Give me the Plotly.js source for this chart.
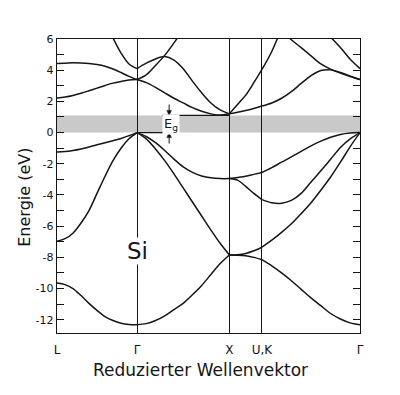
<!DOCTYPE html>
<html>
<head>
<meta charset="utf-8">
<script src="https://cdn.plot.ly/plotly-3.0.1.min.js"></script>
<style>html,body{margin:0;padding:0;background:#fff;}#chart{width:400px;height:395px;}</style>
</head>
<body>
<div id="chart"></div>
<script>
// High-symmetry points along the k-path (reduced wave vector)
const kPointPos = [0, 0.866, 1.866, 2.219, 3.28];
const kPointLabels = ['L', 'Γ', 'X', 'U,K', 'Γ'];

// k grids for each path segment
const kLG = [0, 0.087, 0.173, 0.26, 0.346, 0.433, 0.52, 0.606, 0.693, 0.779, 0.866];
const kGX = [0.866, 0.966, 1.066, 1.166, 1.266, 1.366, 1.466, 1.566, 1.666, 1.766, 1.866];
const kXU = [1.866, 1.954, 2.043, 2.131, 2.219];
const kKG = [2.219, 2.325, 2.431, 2.537, 2.643, 2.75, 2.856, 2.962, 3.068, 3.174, 3.28];

// Energies (eV) — L to Γ
const eLG_c1 = [4.43, 4.45, 4.47, 4.46, 4.43, 4.36, 4.25, 4.08, 3.85, 3.6, 3.4];
const eLG_c2 = [2.22, 2.28, 2.38, 2.52, 2.68, 2.85, 3.02, 3.17, 3.28, 3.37, 3.4];
const eLG_c3 = [null, null, null, null, null, null, 7.2, 6.07, 5.1, 4.4, 4.1];
const eLG_v1 = [-1.25, -1.22, -1.15, -1.05, -0.93, -0.78, -0.65, -0.52, -0.38, -0.2, 0];
const eLG_v2 = [-6.97, -6.8, -6.45, -5.8, -5.0, -3.9, -2.8, -1.8, -1.0, -0.4, 0];
const eLG_v3 = [-9.65, -9.75, -10.0, -10.45, -10.95, -11.4, -11.8, -12.05, -12.22, -12.3, -12.32];

// Γ to X
const eGX_c1 = [4.1, 4.45, 4.72, 4.87, 4.65, 4.1, 3.3, 2.55, 1.9, 1.45, 1.2];
const eGX_c2 = [3.4, 3.2, 2.9, 2.55, 2.2, 1.9, 1.6, 1.37, 1.2, 1.12, 1.2];
const eGX_c3 = [3.4, 3.7, 4.3, 4.95, 5.75, 6.6, null, null, null, null, null];
const eGX_v1 = [0, -0.25, -0.65, -1.15, -1.7, -2.2, -2.55, -2.78, -2.9, -2.95, -2.95];
const eGX_v2 = [0, -0.4, -1.05, -1.8, -2.65, -3.55, -4.45, -5.35, -6.25, -7.1, -7.85];
const eGX_v3 = [-12.32, -12.25, -12.05, -11.75, -11.35, -10.95, -10.4, -9.8, -9.1, -8.4, -7.85];

// X to U
const eXU_c1 = [1.2, 1.3, 1.42, 1.55, 1.7];
const eXU_c2 = [1.2, 1.8, 2.4, 3.2, 4.05];
const eXU_v1 = [-2.95, -2.88, -2.8, -2.68, -2.56];
const eXU_v2 = [-2.95, -3.05, -3.45, -3.9, -4.3];
const eXU_v3 = [-7.85, -7.83, -7.75, -7.58, -7.35];
const eXU_v4 = [-7.85, -7.86, -7.9, -8.0, -8.15];

// K to Γ
const eKG_c1 = [1.7, 1.9, 2.2, 2.62, 3.15, 3.65, 3.98, 4.02, 3.82, 3.6, 3.4];
const eKG_c2 = [4.05, 5.2, 6.7, null, null, null, null, null, null, null, null];
const eKG_c3 = [null, null, 6.6, 5.95, 5.45, 4.92, 4.4, 4.07, 3.85, 3.62, 3.4];
const eKG_c4 = [null, null, null, null, null, null, null, 6.12, 5.45, 4.7, 4.1];
const eKG_v1 = [-2.56, -2.25, -1.9, -1.56, -1.2, -0.85, -0.55, -0.3, -0.12, -0.03, 0];
const eKG_v2 = [-4.3, -4.5, -4.53, -4.35, -3.9, -3.17, -2.45, -1.71, -0.95, -0.4, 0];
const eKG_v3 = [-7.35, -6.9, -6.4, -5.85, -5.2, -4.5, -3.7, -2.85, -1.9, -0.9, 0];
const eKG_v4 = [-8.15, -8.55, -9.0, -9.5, -10.05, -10.6, -11.1, -11.6, -11.95, -12.2, -12.32];

// Energy axis ticks
const yTickVals = [-12,-11,-10,-9,-8,-7,-6,-5,-4,-3,-2,-1,0,1,2,3,4,5,6];
const yTickText = yTickVals.map(v => (v % 2 === 0) ? String(v) : '');

const gapBottom = 0, gapTop = 1.1;

const curves = [
  [kLG, eLG_c1], [kLG, eLG_c2], [kLG, eLG_c3], [kLG, eLG_v1], [kLG, eLG_v2], [kLG, eLG_v3],
  [kGX, eGX_c1], [kGX, eGX_c2], [kGX, eGX_c3], [kGX, eGX_v1], [kGX, eGX_v2], [kGX, eGX_v3],
  [kXU, eXU_c1], [kXU, eXU_c2], [kXU, eXU_v1], [kXU, eXU_v2], [kXU, eXU_v3], [kXU, eXU_v4],
  [kKG, eKG_c1], [kKG, eKG_c2], [kKG, eKG_c3], [kKG, eKG_c4], [kKG, eKG_v1], [kKG, eKG_v2], [kKG, eKG_v3], [kKG, eKG_v4]
];

const ink = '#151515';
const traces = curves.map(([k, e]) => ({
  type: 'scatter', mode: 'lines', x: k, y: e,
  line: {color: ink, width: 1.5, shape: 'spline', smoothing: 0.9},
  hoverinfo: 'skip', showlegend: false
}));

const FONT = 'DejaVu Sans, sans-serif';
const xG = kPointPos[1], xX = kPointPos[2];
const xEg = 1.23, xArrow = 1.214;
const ah = 0.025, av = 0.32; // arrowhead half-width (k units) and length (eV)

const layout = {
  width: 400, height: 395,
  margin: {l: 57, r: 40, t: 39, b: 62},
  paper_bgcolor: '#fff', plot_bgcolor: '#fff',
  font: {family: FONT, color: ink},
  showlegend: false,
  xaxis: {
    range: [kPointPos[0], kPointPos[4]],
    tickvals: kPointPos, ticktext: kPointLabels,
    showgrid: true, gridcolor: ink, gridwidth: 1,
    zeroline: false, showline: true, linecolor: ink, linewidth: 1.3, mirror: true,
    ticks: '', ticklabelstandoff: 5,
    tickfont: {family: FONT, size: 12, color: ink}
  },
  yaxis: {
    range: [-12.85, 6],
    tickvals: yTickVals, ticktext: yTickText,
    ticks: 'inside', ticklen: 7, tickwidth: 1, tickcolor: ink,
    showgrid: false, zeroline: false,
    showline: true, linecolor: ink, linewidth: 1.3, mirror: 'ticks',
    tickfont: {family: FONT, size: 11, color: ink}
  },
  shapes: [
    {type: 'rect', xref: 'x', yref: 'y', x0: kPointPos[0], x1: kPointPos[4], y0: gapBottom, y1: gapTop,
     fillcolor: '#c9c9c9', line: {width: 0}, layer: 'below'},
    {type: 'line', xref: 'x', yref: 'y', x0: xG, x1: 1.32, y0: gapBottom, y1: gapBottom, line: {color: ink, width: 1.2}},
    {type: 'line', xref: 'x', yref: 'y', x0: 1.14, x1: xX, y0: gapTop, y1: gapTop, line: {color: ink, width: 1.2}},
    // upper arrow (pointing down onto the conduction-band edge)
    {type: 'line', xref: 'x', yref: 'y', x0: xArrow, x1: xArrow, y0: gapTop + 0.2, y1: gapTop + 0.7, line: {color: ink, width: 1}},
    {type: 'path', xref: 'x', yref: 'y', fillcolor: ink, line: {color: ink, width: 0.5},
     path: `M ${xArrow - ah} ${gapTop + av} L ${xArrow + ah} ${gapTop + av} L ${xArrow} ${gapTop} Z`},
    // lower arrow (pointing up onto the valence-band edge)
    {type: 'line', xref: 'x', yref: 'y', x0: xArrow, x1: xArrow, y0: gapBottom - 0.2, y1: gapBottom - 0.7, line: {color: ink, width: 1}},
    {type: 'path', xref: 'x', yref: 'y', fillcolor: ink, line: {color: ink, width: 0.5},
     path: `M ${xArrow - ah} ${gapBottom - av} L ${xArrow + ah} ${gapBottom - av} L ${xArrow} ${gapBottom} Z`}
  ],
  annotations: [
    {x: xEg, y: 0.55, xref: 'x', yref: 'y', text: 'E<sub>g</sub>', showarrow: false,
     font: {family: FONT, size: 13, color: ink}, bgcolor: '#fff', borderpad: 1},
    {x: xG, y: -7.6, xref: 'x', yref: 'y', text: 'Si', showarrow: false,
     font: {family: FONT, size: 23, color: ink}, bgcolor: '#fff', borderpad: 0},
    {x: -0.106, y: 0.463, xref: 'paper', yref: 'paper', text: 'Energie (eV)', textangle: -90,
     showarrow: false, xanchor: 'center', yanchor: 'middle', font: {family: FONT, size: 16, color: ink}},
    {x: 0.472, y: -0.125, xref: 'paper', yref: 'paper', text: 'Reduzierter Wellenvektor',
     showarrow: false, xanchor: 'center', yanchor: 'middle', font: {family: FONT, size: 17, color: ink}}
  ]
};

Plotly.newPlot('chart', traces, layout, {displayModeBar: false, staticPlot: true});
</script>
</body>
</html>
